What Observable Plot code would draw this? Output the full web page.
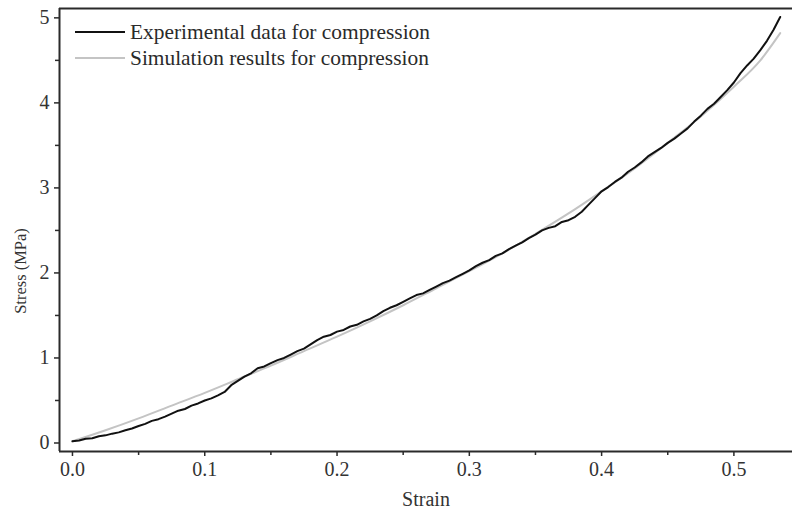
<!DOCTYPE html>
<html>
<head>
<meta charset="utf-8">
<script src="https://cdn.jsdelivr.net/npm/d3@7"></script>
<script src="https://cdn.jsdelivr.net/npm/@observablehq/plot@0.6"></script>
<style>
  html, body { margin: 0; padding: 0; background: #fff; }
  #wrap { position: relative; width: 792px; height: 520px; font-family: "Liberation Serif", "Times New Roman", serif; }
  #legend { position: absolute; left: 75px; top: 19px; font-size: 21.4px; color: #2a2a2a; line-height: 26px; }
  #legend .row { display: flex; align-items: center; white-space: nowrap; }
  #legend svg { margin-right: 5px; }
  #ylabel { position: absolute; left: 21px; top: 271px; font-size: 16.5px; color: #333; white-space: nowrap;
            transform: translate(-50%, -50%) rotate(-90deg); }
</style>
</head>
<body>
<div id="wrap"></div>
<script>
// Experimental data (strain, stress MPa)
const expStrain = [0, 0.005, 0.01, 0.015, 0.02, 0.025, 0.03, 0.035, 0.04, 0.045, 0.05, 0.055, 0.06, 0.065, 0.07, 0.075, 0.08, 0.085, 0.09, 0.095, 0.10, 0.105, 0.11, 0.115, 0.12, 0.125, 0.13, 0.135, 0.14, 0.145, 0.15, 0.155, 0.16, 0.165, 0.17, 0.175, 0.18, 0.185, 0.19, 0.195, 0.20, 0.205, 0.21, 0.215, 0.22, 0.225, 0.23, 0.235, 0.24, 0.245, 0.25, 0.255, 0.26, 0.265, 0.27, 0.275, 0.28, 0.285, 0.29, 0.295, 0.30, 0.305, 0.31, 0.315, 0.32, 0.325, 0.33, 0.335, 0.34, 0.345, 0.35, 0.355, 0.36, 0.365, 0.37, 0.375, 0.38, 0.385, 0.39, 0.395, 0.40, 0.405, 0.41, 0.415, 0.42, 0.425, 0.43, 0.435, 0.44, 0.445, 0.45, 0.455, 0.46, 0.465, 0.47, 0.475, 0.48, 0.485, 0.49, 0.495, 0.50, 0.505, 0.51, 0.515, 0.52, 0.525, 0.53, 0.535];
const expStress = [0.02, 0.03, 0.05, 0.055, 0.08, 0.09, 0.11, 0.125, 0.15, 0.17, 0.20, 0.225, 0.26, 0.28, 0.31, 0.345, 0.38, 0.40, 0.44, 0.465, 0.50, 0.525, 0.56, 0.60, 0.68, 0.73, 0.78, 0.82, 0.88, 0.90, 0.94, 0.975, 1.00, 1.04, 1.08, 1.11, 1.16, 1.21, 1.25, 1.27, 1.31, 1.33, 1.37, 1.39, 1.43, 1.46, 1.50, 1.55, 1.59, 1.62, 1.66, 1.70, 1.74, 1.76, 1.80, 1.84, 1.88, 1.91, 1.95, 1.99, 2.03, 2.08, 2.12, 2.15, 2.20, 2.23, 2.28, 2.32, 2.36, 2.41, 2.45, 2.50, 2.53, 2.55, 2.60, 2.62, 2.66, 2.72, 2.80, 2.88, 2.96, 3.01, 3.07, 3.12, 3.19, 3.24, 3.30, 3.37, 3.42, 3.47, 3.53, 3.58, 3.64, 3.70, 3.78, 3.85, 3.93, 3.99, 4.07, 4.15, 4.24, 4.35, 4.44, 4.52, 4.62, 4.73, 4.86, 5.01];

// Simulation results
const simStrain = [0, 0.025, 0.05, 0.075, 0.10, 0.125, 0.15, 0.175, 0.20, 0.225, 0.25, 0.275, 0.30, 0.325, 0.35, 0.375, 0.40, 0.425, 0.45, 0.475, 0.50, 0.52, 0.535];
const simStress = [0.02, 0.15, 0.29, 0.44, 0.59, 0.75, 0.91, 1.08, 1.25, 1.43, 1.62, 1.82, 2.02, 2.23, 2.46, 2.70, 2.96, 3.23, 3.53, 3.84, 4.19, 4.50, 4.82];

const xMajor = [0, 0.1, 0.2, 0.3, 0.4, 0.5];
const xMinor = [0.05, 0.15, 0.25, 0.35, 0.45];
const yMajor = [0, 1, 2, 3, 4, 5];
const yMinor = [0.5, 1.5, 2.5, 3.5, 4.5];
const xDomain = [-0.0098, 0.5443];
const yDomain = [-0.10, 5.11];

const xLabel = "Strain";
const yLabel = "Stress (MPa)";
const seriesNames = ["Experimental data for compression", "Simulation results for compression"];
const seriesColors = ["#111111", "#c4c4c4"];

const expData = expStrain.map((x, i) => ({x, y: expStress[i]}));
const simData = simStrain.map((x, i) => ({x, y: simStress[i]}));

const axisColor = "#2a2a2a";
const plot = Plot.plot({
  width: 792,
  height: 520,
  marginLeft: 59,
  marginRight: 0,
  marginTop: 8,
  marginBottom: 69,
  style: {fontFamily: "Liberation Serif, Times New Roman, serif", fontSize: "20px", color: "#333", background: "#fff"},
  x: {domain: xDomain},
  y: {domain: yDomain},
  marks: [
    Plot.line(simData, {x: "x", y: "y", stroke: seriesColors[1], strokeWidth: 2, curve: "monotone-x"}),
    Plot.line(expData, {x: "x", y: "y", stroke: seriesColors[0], strokeWidth: 2}),
    Plot.axisX(xMajor, {tickSize: 5, tickPadding: 5, tickFormat: d3.format(".1f"), stroke: axisColor, strokeWidth: 1.5, label: null, fill: "#333", fontSize: 20}),
    Plot.axisX(xMinor, {tickSize: 4, text: null, stroke: axisColor, strokeWidth: 1.5, label: null}),
    Plot.axisY(yMajor, {tickSize: 5, tickPadding: 5, tickFormat: d3.format("d"), stroke: axisColor, strokeWidth: 1.5, label: null, fill: "#333", fontSize: 20}),
    Plot.axisY(yMinor, {tickSize: 4, text: null, stroke: axisColor, strokeWidth: 1.5, label: null}),
    Plot.ruleX([xDomain[0]], {stroke: axisColor, strokeWidth: 2}),
    Plot.ruleY([yDomain[0]], {stroke: axisColor, strokeWidth: 2}),
    Plot.ruleY([yDomain[1]], {stroke: axisColor, strokeWidth: 2}),
    Plot.text([xLabel], {frameAnchor: "bottom", dy: 54, fill: "#333", fontSize: 20})
  ]
});
const wrap = document.getElementById("wrap");
wrap.appendChild(plot);

// Y-axis label (rotated)
const yl = document.createElement("div");
yl.id = "ylabel";
yl.textContent = yLabel;
wrap.appendChild(yl);

// Legend overlay
const legend = document.createElement("div");
legend.id = "legend";
seriesNames.forEach((name, i) => {
  const row = document.createElement("div");
  row.className = "row";
  row.innerHTML = `<svg width="50" height="4"><line x1="0" x2="50" y1="2" y2="2" stroke="${seriesColors[i]}" stroke-width="2"/></svg><span>${name}</span>`;
  legend.appendChild(row);
});
wrap.appendChild(legend);
</script>
</body>
</html>
